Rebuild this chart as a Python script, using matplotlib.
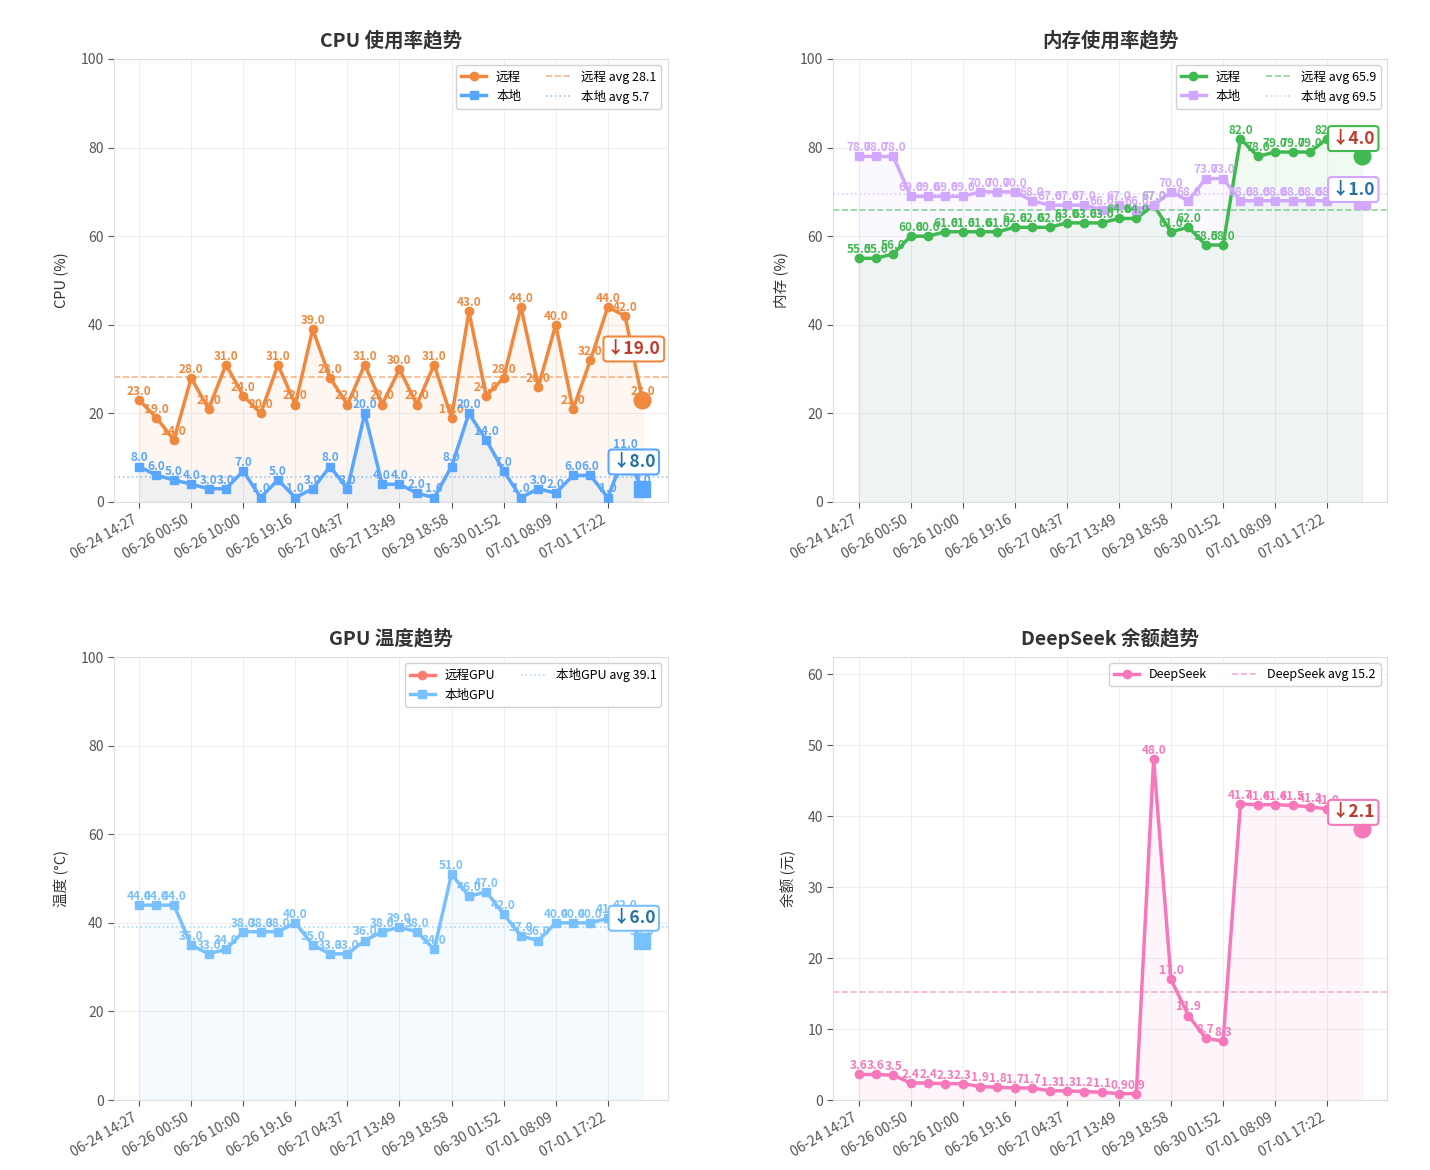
import matplotlib
matplotlib.use('Agg')
import matplotlib.pyplot as plt
import numpy as np

plt.rcParams['font.family'] = ['Noto Sans CJK SC', 'DejaVu Sans']
plt.rcParams['axes.unicode_minus'] = False

tick_labels = ['06-24 14:27', '06-26 00:50', '06-26 10:00', '06-26 19:16', '06-27 04:37',
               '06-27 13:49', '06-29 18:58', '06-30 01:52', '07-01 08:09', '07-01 17:22']
tick_step = 3

cpu_remote = [23, 19, 14, 28, 21, 31, 24, 20, 31, 22, 39, 28, 22, 31, 22, 30, 22, 31, 19, 43,
              24, 28, 44, 26, 40, 21, 32, 44, 42, 23]
cpu_local = [8, 6, 5, 4, 3, 3, 7, 1, 5, 1, 3, 8, 3, 20, 4, 4, 2, 1, 8, 20,
             14, 7, 1, 3, 2, 6, 6, 1, 11, 3]
mem_remote = [55, 55, 56, 60, 60, 61, 61, 61, 61, 62, 62, 62, 63, 63, 63, 64, 64, 67, 61, 62,
              58, 58, 82, 78, 79, 79, 79, 82, 82, 78]
mem_local = [78, 78, 78, 69, 69, 69, 69, 70, 70, 70, 68, 67, 67, 67, 66, 67, 66, 67, 70, 68,
             73, 73, 68, 68, 68, 68, 68, 68, 69, 68]
gpu_remote = []
gpu_local = [44, 44, 44, 35, 33, 34, 38, 38, 38, 40, 35, 33, 33, 36, 38, 39, 38, 34, 51, 46,
             47, 42, 37, 36, 40, 40, 40, 41, 42, 36]
deepseek = [3.6, 3.6, 3.5, 2.4, 2.4, 2.3, 2.3, 1.9, 1.8, 1.7, 1.7, 1.3, 1.3, 1.2, 1.1, 0.9, 0.9,
            48.0, 17.0, 11.9, 8.7, 8.3, 41.7, 41.6, 41.6, 41.5, 41.3, 41.0, 40.3, 38.2]

ORANGE = '#f0883e'
BLUE = '#58a6ff'
GREEN = '#3fb950'
PURPLE = '#d2a8ff'
SALMON = '#ff7b72'
LBLUE = '#79c0ff'
PINK = '#f778ba'
DELTA_COLORS = ['#c0392b', '#2471a3']

fig = plt.figure(figsize=(14.3, 11.7), dpi=100)
fig.subplots_adjust(left=0.0797, right=0.970, top=0.9496, bottom=0.0598, wspace=0.2995, hspace=0.35)
axes = fig.subplots(2, 2)


def draw(ax, series, title, ylabel, ylim, yticks):
    lines = []
    avgs = []
    for k, (name, vals, color, marker, ls) in enumerate(series):
        if len(vals) == 0:
            h, = ax.plot([], [], color=color, marker=marker, lw=2.5, ms=6, label=name)
            lines.append(h)
            continue
        x = np.arange(len(vals))
        v = np.array(vals, dtype=float)
        h, = ax.plot(x, v, color=color, marker=marker, lw=2.5, ms=6, label=name, zorder=3)
        lines.append(h)
        ax.fill_between(x, v, 0, color=color, alpha=0.07, zorder=1)
        for xi, vi in zip(x, v):
            ax.annotate(f'{vi:.1f}', (xi, vi), xytext=(0, 1.5), textcoords='offset points',
                        ha='center', va='bottom', fontsize=8.5, color=color,
                        fontweight='bold', zorder=5)
        ax.plot(x[-1], v[-1], marker=marker, ms=12, color=color, zorder=4, ls='none')
        m = v.mean()
        a = ax.axhline(m, color=color, ls=ls, lw=1.2, alpha=0.6, label=f'{name} avg {m:.1f}', zorder=2)
        avgs.append(a)
        d = v[-1] - v[-2]
        arrow = '↑' if d > 0 else '↓'
        ax.annotate(f'{arrow}{abs(d):.1f}', ((x[-1] + x[-2]) / 2, (v[-1] + v[-2]) / 2),
                    ha='center', va='bottom', fontsize=12.5, fontweight='bold',
                    color=DELTA_COLORS[k % 2], zorder=6,
                    bbox=dict(boxstyle='round,pad=0.2', fc='white', ec=color, lw=1.5))
    n = 30
    ax.set_xlim(-1.45, n - 1 + 1.45)
    ax.set_ylim(*ylim)
    ax.set_yticks(yticks)
    ax.set_xticks(np.arange(0, n, tick_step)[:len(tick_labels)])
    ax.set_xticklabels(tick_labels, rotation=30, ha='right')
    ax.tick_params(colors='#555555', labelsize=10, length=4)
    for s in ax.spines.values():
        s.set_color('#dddddd')
    ax.grid(True, color='#eeeeee', lw=0.8)
    ax.set_axisbelow(True)
    ax.set_title(title, fontsize=14, fontweight='bold', color='#333333', pad=9)
    ax.set_ylabel(ylabel, fontsize=10.5, color='#333333', labelpad=8)
    leg = ax.legend(handles=lines + avgs, loc='upper right', ncol=2, fontsize=9,
                    frameon=True, edgecolor='#cccccc', framealpha=0.9)
    leg.set_zorder(10)


draw(axes[0, 0], [('远程', cpu_remote, ORANGE, 'o', '--'), ('本地', cpu_local, BLUE, 's', ':')],
     'CPU 使用率趋势', 'CPU (%)', (0, 100), range(0, 101, 20))
draw(axes[0, 1], [('远程', mem_remote, GREEN, 'o', '--'), ('本地', mem_local, PURPLE, 's', ':')],
     '内存使用率趋势', '内存 (%)', (0, 100), range(0, 101, 20))
draw(axes[1, 0], [('远程GPU', gpu_remote, SALMON, 'o', '--'), ('本地GPU', gpu_local, LBLUE, 's', ':')],
     'GPU 温度趋势', '温度 (°C)', (0, 100), range(0, 101, 20))
draw(axes[1, 1], [('DeepSeek', deepseek, PINK, 'o', '--')],
     'DeepSeek 余额趋势', '余额 (元)', (0, max(deepseek) * 1.3), range(0, 61, 10))

fig.savefig('out.png', dpi=100)
